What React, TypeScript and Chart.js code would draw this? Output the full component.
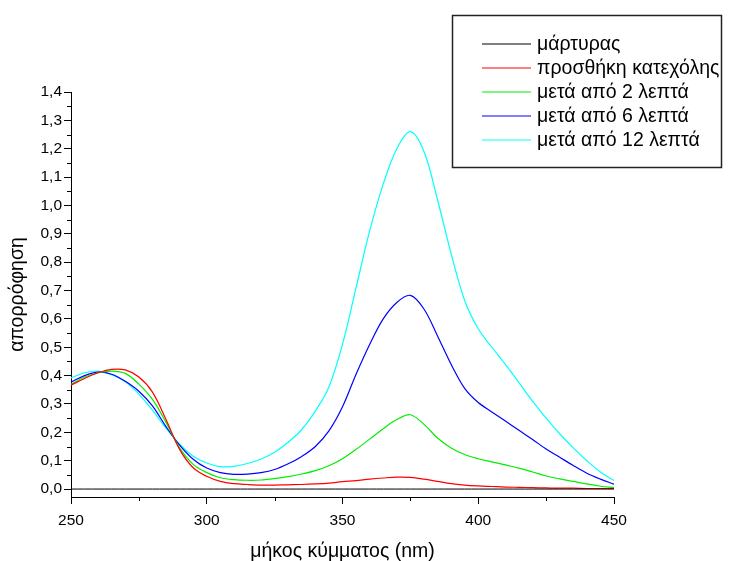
import React, { useEffect, useRef } from "react";
import { Chart, registerables } from "chart.js";

Chart.register(...registerables);

const wavelengths = [
  250, 255, 260, 265, 270, 275, 280, 285, 290, 295, 300, 305, 310, 315, 320, 325, 330, 335, 340, 345,
  350, 355, 360, 365, 370, 375, 380, 385, 390, 395, 400, 405, 410, 415, 420, 425, 430, 435, 440, 445, 450,
];

const seriesLabels = [
  "μάρτυρας",
  "προσθήκη κατεχόλης",
  "μετά από 2 λεπτά",
  "μετά από 6 λεπτά",
  "μετά από 12 λεπτά",
];

const blank = [
  0, 0, 0, 0, 0, 0, 0, 0, 0, 0, 0, 0, 0, 0, 0, 0, 0, 0, 0, 0,
  0, 0, 0, 0, 0, 0, 0, 0, 0, 0, 0, 0, 0, 0, 0, 0, 0, 0, 0, 0, 0,
];

const catechol = [
  0.366, 0.39, 0.41, 0.422, 0.42, 0.395, 0.342, 0.245, 0.14, 0.075, 0.045, 0.027, 0.019, 0.016, 0.014, 0.014, 0.015, 0.016, 0.018, 0.021,
  0.026, 0.03, 0.035, 0.039, 0.042, 0.041, 0.035, 0.027, 0.019, 0.014, 0.011, 0.009, 0.007, 0.006, 0.005, 0.004, 0.003, 0.003, 0.002, 0.002, 0.002,
];

const after2 = [
  0.369, 0.395, 0.41, 0.416, 0.408, 0.37, 0.316, 0.235, 0.145, 0.087, 0.058, 0.04, 0.033, 0.031, 0.032, 0.037, 0.044, 0.053, 0.065, 0.082,
  0.107, 0.14, 0.176, 0.213, 0.245, 0.262, 0.228, 0.18, 0.145, 0.122, 0.107, 0.096, 0.085, 0.074, 0.06, 0.046, 0.036, 0.027, 0.018, 0.01, 0.005,
];

const after6 = [
  0.377, 0.4, 0.412, 0.405, 0.38, 0.345, 0.293, 0.22, 0.155, 0.105, 0.074, 0.058, 0.052, 0.053, 0.058, 0.069, 0.089, 0.115, 0.15, 0.205,
  0.29, 0.405, 0.51, 0.6, 0.658, 0.683, 0.635, 0.54, 0.44, 0.355, 0.305, 0.272, 0.24, 0.207, 0.175, 0.141, 0.112, 0.083, 0.056, 0.035, 0.017,
];

const after12 = [
  0.392, 0.41, 0.416, 0.403, 0.378, 0.335, 0.278, 0.215, 0.158, 0.116, 0.092, 0.079, 0.08, 0.09, 0.106, 0.13, 0.165, 0.21, 0.275, 0.36,
  0.51, 0.71, 0.91, 1.075, 1.2, 1.26, 1.19, 1.02, 0.83, 0.665, 0.565, 0.5, 0.44, 0.375, 0.31, 0.25, 0.195, 0.145, 0.1, 0.06, 0.03,
];

const seriesColors = ["#000000", "#ff0000", "#00ee00", "#0000ff", "#00ffff"];

const xMajorTicks = [250, 300, 350, 400, 450];
const xMinorTicks = [275, 325, 375, 425];
const yMajorTicks = [0, 0.1, 0.2, 0.3, 0.4, 0.5, 0.6, 0.7, 0.8, 0.9, 1.0, 1.1, 1.2, 1.3, 1.4];
const yMinorTicks = [0.05, 0.15, 0.25, 0.35, 0.45, 0.55, 0.65, 0.75, 0.85, 0.95, 1.05, 1.15, 1.25, 1.35];

const FONT = "'Liberation Sans', Arial, sans-serif";

const minorTicksPlugin = {
  id: "minorTicks",
  afterDraw(chart: any) {
    const ctx = chart.ctx;
    const xs = chart.scales.x;
    const ys = chart.scales.y;
    const area = chart.chartArea;
    ctx.save();
    ctx.strokeStyle = "#000";
    ctx.lineWidth = 1;
    ctx.beginPath();
    for (const v of xMinorTicks) {
      const px = Math.round(xs.getPixelForValue(v)) + 0.5;
      ctx.moveTo(px, area.bottom);
      ctx.lineTo(px, area.bottom + 4);
    }
    for (const v of yMinorTicks) {
      const py = Math.round(ys.getPixelForValue(v)) + 0.5;
      ctx.moveTo(area.left, py);
      ctx.lineTo(area.left - 4, py);
    }
    ctx.stroke();
    ctx.restore();
  },
};

const legendBoxPlugin = {
  id: "legendBox",
  afterDraw(chart: any) {
    const ctx = chart.ctx;
    const left = 452.5;
    const top = 15.5;
    const right = 721.5;
    const bottom = 167.5;
    ctx.save();
    ctx.fillStyle = "#ffffff";
    ctx.fillRect(left, top, right - left, bottom - top);
    ctx.font = `19.5px ${FONT}`;
    ctx.textBaseline = "middle";
    ctx.textAlign = "left";
    chart.data.datasets.forEach((ds: any, i: number) => {
      const y = 44 + i * 24;
      ctx.strokeStyle = ds.borderColor;
      ctx.lineWidth = 1.2;
      ctx.beginPath();
      ctx.moveTo(482, y);
      ctx.lineTo(531, y);
      ctx.stroke();
      ctx.fillStyle = "#000";
      ctx.fillText(ds.label, 537, y + 1);
    });
    ctx.strokeStyle = "#222";
    ctx.lineWidth = 1.5;
    ctx.strokeRect(left, top, right - left, bottom - top);
    ctx.restore();
  },
};

export default function App() {
  const canvasRef = useRef<HTMLCanvasElement | null>(null);

  useEffect(() => {
    document.body.style.margin = "0";
    const canvas = canvasRef.current;
    if (!canvas) return;
    const allSeries = [blank, catechol, after2, after6, after12];
    const chart = new Chart(canvas, {
      type: "line",
      data: {
        datasets: allSeries.map((vals, i) => ({
          label: seriesLabels[i],
          data: wavelengths.map((w, j) => ({ x: w, y: vals[j] })),
          borderColor: seriesColors[i],
          backgroundColor: seriesColors[i],
          borderWidth: i === 0 ? 1 : 1.2,
          pointRadius: 0,
          fill: false,
          tension: 0.35,
        })),
      },
      options: {
        animation: false,
        responsive: false,
        maintainAspectRatio: false,
        events: [],
        layout: { padding: { left: 0, top: 92, right: 129, bottom: 0 } },
        plugins: {
          legend: { display: false },
          tooltip: { enabled: false },
          title: { display: false },
        },
        scales: {
          x: {
            type: "linear",
            min: 250,
            max: 450,
            afterFit: (s: any) => {
              s.height = 64;
            },
            afterBuildTicks: (s: any) => {
              s.ticks = xMajorTicks.map((v) => ({ value: v }));
            },
            grid: {
              display: true,
              drawOnChartArea: false,
              drawTicks: true,
              tickLength: 7,
              tickColor: "#000",
              tickWidth: 1,
            },
            border: { display: true, color: "#000", width: 1 },
            ticks: {
              color: "#000",
              font: { family: FONT, size: 15.5 },
              padding: 7,
              maxRotation: 0,
              autoSkip: false,
              callback: (v: any) => String(v),
            },
            title: {
              display: true,
              text: "μήκος κύμματος (nm)",
              color: "#000",
              font: { family: FONT, size: 19.5, lineHeight: 1 },
              padding: { top: 0, bottom: 0 },
            },
          },
          y: {
            type: "linear",
            min: -0.028,
            max: 1.4,
            afterFit: (s: any) => {
              s.width = 71;
            },
            afterBuildTicks: (s: any) => {
              s.ticks = yMajorTicks.map((v) => ({ value: v }));
            },
            grid: {
              display: true,
              drawOnChartArea: false,
              drawTicks: true,
              tickLength: 7,
              tickColor: "#000",
              tickWidth: 1,
            },
            border: { display: true, color: "#000", width: 1 },
            ticks: {
              color: "#000",
              font: { family: FONT, size: 15.5 },
              padding: 2,
              autoSkip: false,
              callback: (v: any) => Number(v).toFixed(1).replace(".", ","),
            },
            title: {
              display: true,
              text: "απορρόφηση",
              color: "#000",
              font: { family: FONT, size: 19.5, lineHeight: 1 },
              padding: { top: 8, bottom: 0 },
            },
          },
        },
      },
      plugins: [minorTicksPlugin, legendBoxPlugin],
    });
    return () => {
      chart.destroy();
    };
  }, []);

  return (
    <div style={{ width: 743, height: 561 }}>
      <canvas ref={canvasRef} width={743} height={561} style={{ display: "block", width: 743, height: 561 }} />
    </div>
  );
}
